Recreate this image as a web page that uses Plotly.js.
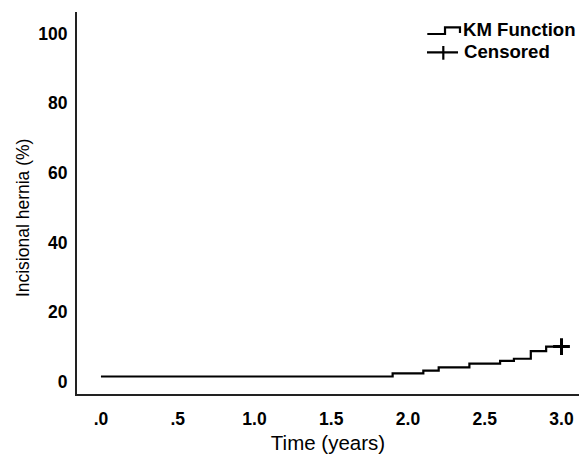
<!DOCTYPE html>
<html>
<head>
<meta charset="utf-8">
<script src="https://cdn.plot.ly/plotly-3.0.1.min.js"></script>
<style>html,body{margin:0;padding:0;background:#fff;}#chart{width:579px;height:455px;}</style>
</head>
<body>
<div id="chart"></div>
<script>
// Kaplan-Meier cumulative incidence
const times = [0, 1.90, 2.10, 2.20, 2.40, 2.60, 2.69, 2.80, 2.90, 3.0];
const incidence = [1.5, 2.4, 3.2, 4.1, 5.2, 6.0, 6.6, 8.8, 10.1, 10.1];
const censoredTimes = [3.0];
const censoredValues = [10.1];
const xTickVals = [0, 0.5, 1.0, 1.5, 2.0, 2.5, 3.0];
const xTickText = ['.0', '.5', '1.0', '1.5', '2.0', '2.5', '3.0'];
const yTickVals = [0, 20, 40, 60, 80, 100];
const legendLabels = ['KM Function', 'Censored'];

const fam = 'Liberation Sans, Arial, sans-serif';
const tickFont = {family: fam, size: 17.5, color: '#000', weight: 'bold'};
const legendFont = {family: fam, size: 18.6, color: '#000', weight: 'bold'};
const xTitleFont = {family: fam, size: 20.5, color: '#000'};
const yTitleFont = {family: fam, size: 17.5, color: '#000'};

const traces = [
  {x: times, y: incidence, type: 'scatter', mode: 'lines', line: {shape: 'hv', color: '#000', width: 2.2}, showlegend: false, hoverinfo: 'skip'},
  {x: censoredTimes, y: censoredValues, type: 'scatter', mode: 'markers', marker: {symbol: 'cross-thin', size: 12, line: {color: '#000', width: 3}}, showlegend: false, hoverinfo: 'skip'}
];

const layout = {
  width: 579, height: 455,
  margin: {l: 77, r: 0, t: 12, b: 61},
  paper_bgcolor: '#fff', plot_bgcolor: '#fff',
  showlegend: false,
  xaxis: {
    range: [-0.156, 3.114], showgrid: false, zeroline: false,
    showline: true, linecolor: '#222', linewidth: 2, mirror: false,
    ticks: '', tickvals: xTickVals, ticktext: xTickText, tickfont: tickFont,
    ticklabelstandoff: 8,
    title: {text: 'Time (years)', font: xTitleFont, standoff: 8}
  },
  yaxis: {
    range: [-3.53, 106.2], showgrid: false, zeroline: false,
    showline: true, linecolor: '#222', linewidth: 2,
    ticks: '', tickvals: yTickVals, tickfont: tickFont,
    ticklabelstandoff: 4
  },
  annotations: [
    {text: 'Incisional hernia (%)', xref: 'paper', yref: 'paper', x: -0.1076, y: 0.463, textangle: -90, showarrow: false, font: yTitleFont, xanchor: 'center', yanchor: 'middle'},
    {text: legendLabels[0], xref: 'paper', yref: 'paper', x: 0.765, y: 0.9537, showarrow: false, xanchor: 'left', yanchor: 'middle', font: legendFont},
    {text: legendLabels[1], xref: 'paper', yref: 'paper', x: 0.767, y: 0.8979, showarrow: false, xanchor: 'left', yanchor: 'middle', font: legendFont}
  ],
  shapes: [
    {type: 'path', xref: 'paper', yref: 'paper', path: 'M0.6978,0.9424 L0.7331,0.9424 L0.7331,0.9599 L0.7629,0.9599 L0.7629,0.945', line: {color: '#000', width: 2.2}},
    {type: 'line', xref: 'paper', yref: 'paper', x0: 0.6972, x1: 0.759, y0: 0.8945, y1: 0.8945, line: {color: '#000', width: 2.2}},
    {type: 'line', xref: 'paper', yref: 'paper', x0: 0.7297, x1: 0.7297, y0: 0.8751, y1: 0.911, line: {color: '#000', width: 2.2}}
  ]
};

Plotly.newPlot('chart', traces, layout, {staticPlot: true, displayModeBar: false});
</script>
</body>
</html>
